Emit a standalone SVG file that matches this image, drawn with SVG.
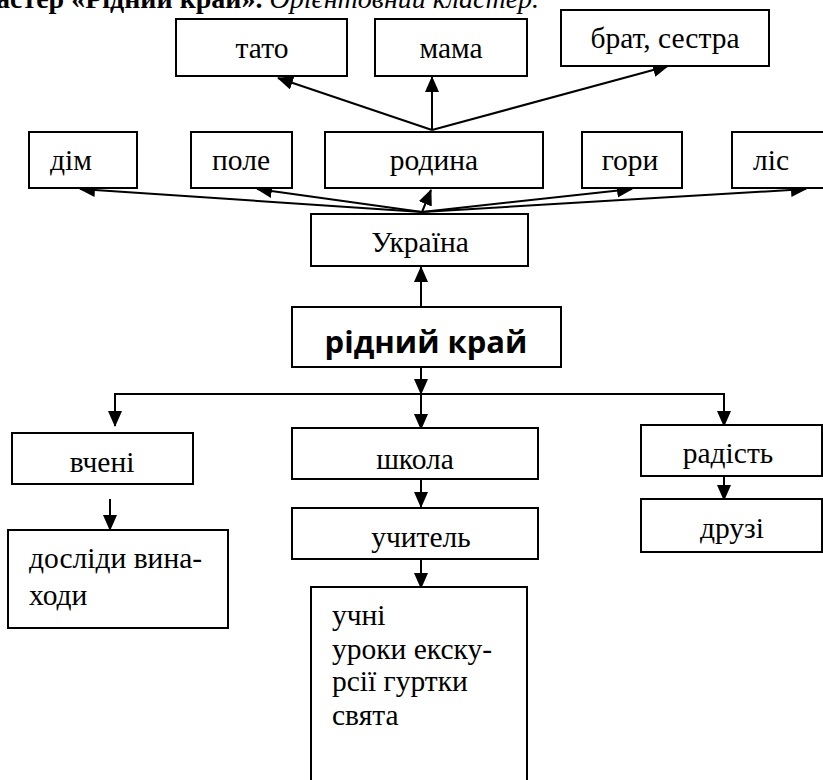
<svg xmlns="http://www.w3.org/2000/svg" width="823" height="780" viewBox="0 0 823 780">
<style>
.box{fill:#fff;stroke:#000;stroke-width:2}
.t{font-family:"Liberation Serif","Times New Roman",serif;font-size:29.5px;fill:#000}
.c{text-anchor:middle}
.title{font-family:"Liberation Serif","Times New Roman",serif;font-size:28px;fill:#000;font-weight:bold}
.main{font-family:"Open Sans","Noto Sans",sans-serif;font-weight:bold;font-size:31px;fill:#000;text-anchor:middle}
.ln{stroke:#000;stroke-width:2;fill:none}
.ar{stroke:#000;stroke-width:2;fill:none;marker-end:url(#ah)}
</style>
<defs>
<marker id="ah" markerUnits="userSpaceOnUse" markerWidth="16" markerHeight="14" refX="15" refY="7" orient="auto">
<path d="M0,0 L16,7 L0,14 Z" fill="#000"/>
</marker>
</defs>
<text x="-4" y="8" class="title">астер «Рідний край». <tspan style="font-weight:normal;font-style:italic">Орієнтовний кластер.</tspan></text>

<g id="connectors">
<line class="ar" x1="432" y1="130" x2="278" y2="78"/>
<line class="ar" x1="432" y1="130" x2="432" y2="77"/>
<line class="ar" x1="432" y1="130" x2="668" y2="66"/>
<line class="ar" x1="422" y1="212" x2="80" y2="189"/>
<line class="ar" x1="422" y1="212" x2="257" y2="189"/>
<line class="ar" x1="422" y1="212" x2="431" y2="190"/>
<line class="ar" x1="422" y1="212" x2="632" y2="189"/>
<line class="ar" x1="422" y1="212" x2="806" y2="189"/>
<line class="ar" x1="421" y1="307" x2="421" y2="267"/>
<line class="ar" x1="421" y1="367" x2="421" y2="394"/>
<polyline class="ln" points="115,425 115,394 724,394 724,425"/>
<line class="ar" x1="115" y1="394" x2="115" y2="426"/>
<line class="ar" x1="421" y1="394" x2="421" y2="429"/>
<line class="ar" x1="724" y1="394" x2="724" y2="426"/>
<line class="ar" x1="110" y1="499" x2="110" y2="530"/>
<line class="ar" x1="421" y1="479" x2="421" y2="507"/>
<line class="ar" x1="421" y1="559" x2="421" y2="588"/>
<line class="ar" x1="724" y1="476" x2="724" y2="500"/>
</g>

<g id="tato"><rect class="box" x="176" y="19" width="171" height="57"/><text class="t c" x="262" y="58">тато</text></g>
<g id="mama"><rect class="box" x="375" y="19" width="152" height="57"/><text class="t c" x="451" y="58">мама</text></g>
<g id="brat"><rect class="box" x="561" y="10" width="208" height="56"/><text class="t c" x="665" y="48">брат, сестра</text></g>

<g id="dim"><rect class="box" x="29" y="132" width="108" height="56"/><text class="t" x="50" y="170">дім</text></g>
<g id="pole"><rect class="box" x="191" y="132" width="101" height="56"/><text class="t c" x="241" y="170">поле</text></g>
<g id="rodyna"><rect class="box" x="325" y="132" width="218" height="56"/><text class="t c" x="434" y="170">родина</text></g>
<g id="hory"><rect class="box" x="582" y="132" width="100" height="56"/><text class="t c" x="630" y="170">гори</text></g>
<g id="lis"><rect class="box" x="732" y="132" width="100" height="56"/><text class="t" x="753" y="170">ліс</text></g>

<g id="ukraina"><rect class="box" x="311" y="214" width="217" height="52"/><text class="t c" x="420" y="252">Україна</text></g>

<g id="ridnyi-krai"><rect class="box" x="292" y="307" width="269" height="60"/><text class="main" x="426" y="353">рідний край</text></g>

<g id="vcheni"><rect class="box" x="12" y="433" width="181" height="51"/><text class="t c" x="102" y="472">вчені</text></g>
<g id="shkola"><rect class="box" x="292" y="428" width="246" height="51"/><text class="t c" x="415" y="469">школа</text></g>
<g id="radist"><rect class="box" x="641" y="425" width="181" height="51"/><text class="t c" x="728" y="463">радість</text></g>

<g id="doslidy"><rect class="box" x="8" y="530" width="220" height="98"/><text class="t" x="29" y="568">досліди вина-</text><text class="t" x="29" y="605">ходи</text></g>
<g id="uchytel"><rect class="box" x="292" y="508" width="246" height="51"/><text class="t c" x="421" y="547">учитель</text></g>
<g id="druzi"><rect class="box" x="641" y="499" width="181" height="53"/><text class="t c" x="732" y="538">друзі</text></g>

<g id="uchni"><rect class="box" x="311" y="587" width="216" height="210"/>
<text class="t" x="332" y="625">учні</text>
<text class="t" x="332" y="659">уроки екску-</text>
<text class="t" x="332" y="691">рсії гуртки</text>
<text class="t" x="332" y="725">свята</text>
</g>
</svg>
